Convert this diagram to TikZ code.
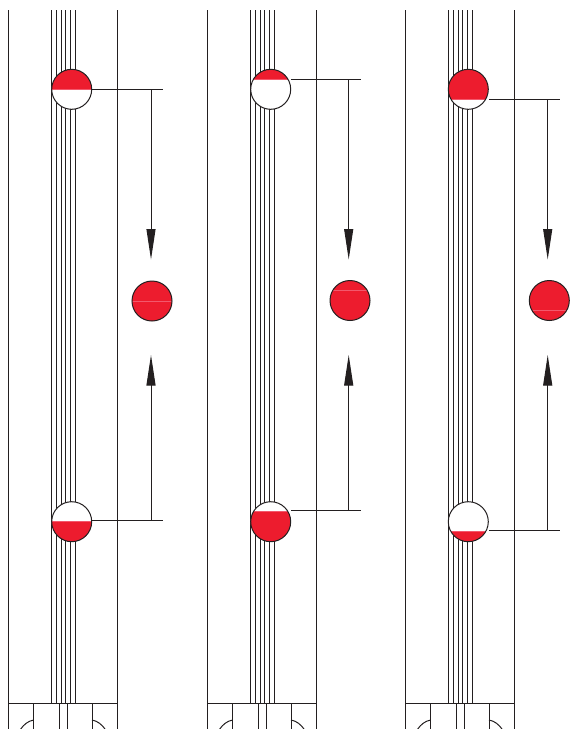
\documentclass[tikz,border=0pt]{standalone}
\usetikzlibrary{arrows.meta}
\definecolor{inkblack}{HTML}{231F20}
\definecolor{gaugered}{HTML}{ED1C2E}
\definecolor{gaugeline}{HTML}{F3586C}
\begin{document}
\begin{tikzpicture}[
  x=1pt, y=-1pt,
  every path/.style={line width=1pt, color=inkblack},
  gauge/.style={circle, draw=inkblack, fill=white, inner sep=0pt, minimum size=40pt},
  redabove/.style={gauge, path picture={
    \fill[gaugered] (-25,-25) rectangle (25,#1);
    \draw[gaugeline, line width=0.5pt] (-25,#1) -- (25,#1);}},
  redbelow/.style={gauge, path picture={
    \fill[gaugered] (-25,#1) rectangle (25,25);
    \draw[gaugeline, line width=0.5pt] (-25,#1) -- (25,#1);}},
  redfull/.style={gauge, path picture={
    \fill[gaugered] (-25,-25) rectangle (25,25);
    \draw[gaugeline, line width=0.4pt] (-25,#1) -- (25,#1);}},
  arrow/.style={-{Triangle[length=30.5pt, width=9pt, inkblack]}},
  shaft/.pic={
    \draw (8.7,10) -- (8.7,729);
    \draw (117,10) -- (117,729);
    \draw[line width=0.9pt] (51,10) -- (51,704) (56,10) -- (56,704) (61,10) -- (61,704);
    \draw[line width=0.9pt] (65.7,10) -- (65.7,704) (70.3,10) -- (70.3,704) (75,10) -- (75,704);
    \draw (8.7,703.7) -- (117,703.7);
    \draw (33.7,704) -- (33.7,729) (59,704) -- (59,729) (67,704) -- (67,729) (92,704) -- (92,729);
    \draw (33.7,720) .. controls (28,721) and (24,724.5) .. (20.7,729);
    \draw (92,720) .. controls (97.7,721) and (101.7,724.5) .. (105,729);
  }
]
\useasboundingbox (0,0) rectangle (570,729);
\pic at (0,0) {shaft};
\pic at (199,0) {shaft};
\pic at (397,0) {shaft};
% first column
\node[redabove=0] (topa) at (71.7,89.3) {};
\node[redbelow=0] (lowa) at (71.7,521.7) {};
\node[redfull=0] (mida) at (152,301) {};
\coordinate (enda) at (163.3,89.3);
\coordinate (forka) at (151,89.3);
\coordinate (tipa) at (151,259.5);
\coordinate (endb) at (163.3,520.7);
\coordinate (forkb) at (151,520.7);
\coordinate (tipb) at (151,355);
\draw (topa.east |- enda) -- (enda);
\draw (lowa.east |- endb) -- (endb);
\draw[arrow] (forka) -- (tipa);
\draw[arrow] (forkb) -- (tipb);
% second column
\node[redabove=-10] (topc) at (270.7,89.3) {};
\node[redbelow=-10] (lowc) at (270.7,521.7) {};
\node[redfull=-10] (midc) at (350,300.5) {};
\coordinate (endc) at (361,79.3);
\coordinate (forkc) at (348.7,79.3);
\coordinate (tipc) at (348.7,259.5);
\coordinate (endd) at (361,510.7);
\coordinate (forkd) at (348.7,510.7);
\coordinate (tipd) at (348.7,355);
\draw (topc.east |- endc) -- (endc);
\draw (lowc.east |- endd) -- (endd);
\draw[arrow] (forkc) -- (tipc);
\draw[arrow] (forkd) -- (tipd);
% third column
\node[redabove=10] (tope) at (468.3,89.3) {};
\node[redbelow=10] (lowe) at (468.3,521.7) {};
\node[redfull=10] (mide) at (549.3,300.5) {};
\coordinate (ende) at (560,99);
\coordinate (forke) at (547.7,99);
\coordinate (tipe) at (547.7,259.5);
\coordinate (endf) at (560,530.7);
\coordinate (forkf) at (547.7,530.7);
\coordinate (tipf) at (547.7,355);
\draw (tope.east |- ende) -- (ende);
\draw (lowe.east |- endf) -- (endf);
\draw[arrow] (forke) -- (tipe);
\draw[arrow] (forkf) -- (tipf);
\end{tikzpicture}
\end{document}
